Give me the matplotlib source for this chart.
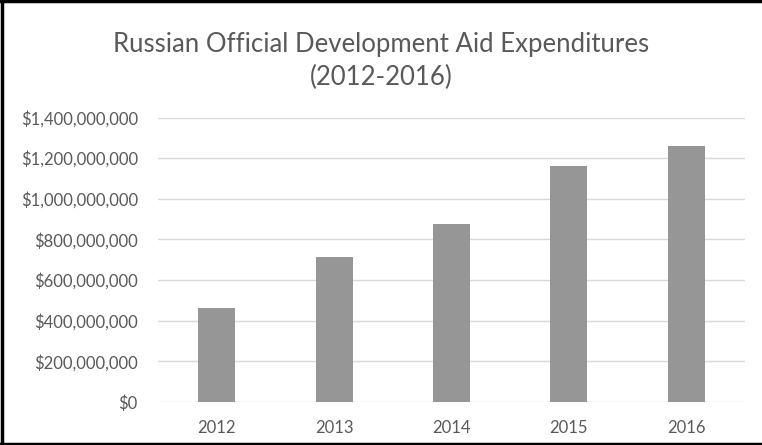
import matplotlib
matplotlib.use("Agg")
import matplotlib.pyplot as plt
from matplotlib.ticker import FuncFormatter, MultipleLocator
from matplotlib.lines import Line2D

years = ["2012", "2013", "2014", "2015", "2016"]
values = [465e6, 714e6, 876e6, 1161e6, 1258e6]
title = "Russian Official Development Aid Expenditures\n(2012-2016)"

plt.rcParams['font.family'] = ['Lato', 'DejaVu Sans']
txt = '#595959'

fig = plt.figure(figsize=(7.62, 4.45), dpi=100)
ax = fig.add_axes([158/762, 1-402/445, (745-158)/762, (402-117.5)/445])
x = range(len(years))
ax.bar(x, values, width=0.315, color='#969696', zorder=3)
ax.set_xlim(-0.5, len(years)-0.5)
ax.set_ylim(0, 1.4e9)
ax.yaxis.set_major_locator(MultipleLocator(2e8))
ax.yaxis.set_major_formatter(FuncFormatter(lambda v, p: "${:,.0f}".format(v)))
ax.set_xticks(list(x))
ax.set_xticklabels(years)
ax.grid(axis='y', color='#d9d9d9', linewidth=1, zorder=0)
for s in ax.spines.values():
    s.set_visible(False)
ax.tick_params(axis='both', length=0, labelsize=12, labelcolor=txt)
ax.tick_params(axis='y', pad=14.5)
ax.tick_params(axis='x', pad=13)

fig.text(0.5, 1-61/445, title, ha='center', va='center', fontsize=18.5, color=txt, linespacing=1.4)

# outer border (top, left, bottom)
fig.add_artist(Line2D([0, 1], [1-1/445, 1-1/445], transform=fig.transFigure, color='black', lw=2.5))
fig.add_artist(Line2D([1.5/762, 1.5/762], [0, 1], transform=fig.transFigure, color='black', lw=2.5))
fig.add_artist(Line2D([0, 1], [1.5/445, 1.5/445], transform=fig.transFigure, color='black', lw=2.5))

fig.savefig("out.png", dpi=100)
